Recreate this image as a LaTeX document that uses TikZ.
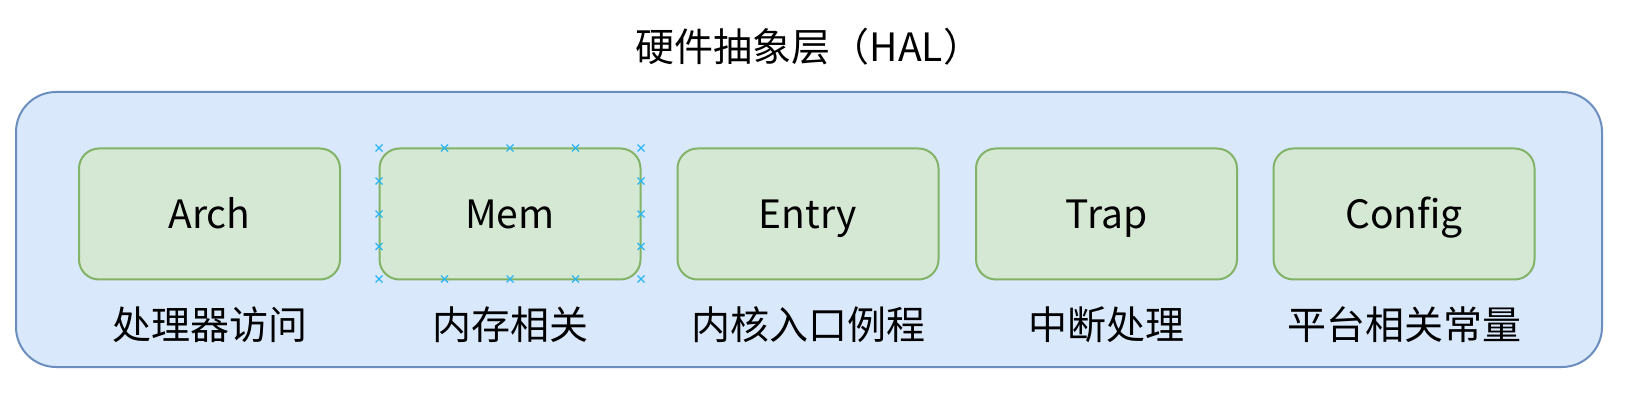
\documentclass[tikz,border=0pt]{standalone}
\usepackage{fontspec}
\newfontfamily\cjk{Noto Sans CJK SC}
\definecolor{outerfill}{HTML}{DAE8FC}
\definecolor{outerdraw}{HTML}{6C8EBF}
\definecolor{innerfill}{HTML}{D5E8D4}
\definecolor{innerdraw}{HTML}{82B366}
\definecolor{selblue}{HTML}{29B6F2}
\tikzset{
  modbox/.style={draw=innerdraw, fill=innerfill, line width=2pt, rounded corners=20pt,
    minimum width=261pt, minimum height=131pt, inner sep=0pt,
    text height=29.6pt, text depth=0pt,
    font=\cjk\fontsize{39}{45}\selectfont},
  caption/.style={font=\cjk\fontsize{39}{45}\selectfont, inner sep=0pt},
  selmark/.style={draw=selblue, line width=1.2pt}
}
\begin{document}
\begin{tikzpicture}[x=1pt,y=-1pt]
\path[use as bounding box, fill=white] (0,0) rectangle (1626,406);
\node[draw=outerdraw, fill=outerfill, line width=2pt, rounded corners=40pt,
  minimum width=1586pt, minimum height=275pt, inner sep=0pt] (hal) at (809,229.5) {};
\node[caption] (title) at (809,47) {硬件抽象层（HAL）};
\node[modbox] (arch) at (209.5,214) {Arch};
\node[modbox] (mem) at (510,214) {Mem};
\node[modbox] (entry) at (808,214) {Entry};
\node[modbox] (trap) at (1106.5,214) {Trap};
\node[modbox] (config) at (1404,214) {Config};
\node[caption] (l1) at (209.5,325) {处理器访问};
\node[caption] (l2) at (510,325) {内存相关};
\node[caption] (l3) at (808,325) {内核入口例程};
\node[caption] (l4) at (1106.5,325) {中断处理};
\node[caption] (l5) at (1404,325) {平台相关常量};
\foreach \x in {379,444.5,510,575.5,641}{
  \foreach \y in {148,279}{
    \draw[selmark] (\x-3.5,\y-3.5) -- (\x+3.5,\y+3.5) (\x-3.5,\y+3.5) -- (\x+3.5,\y-3.5);
  }
}
\foreach \x in {379,641}{
  \foreach \y in {181,214,246.5}{
    \draw[selmark] (\x-3.5,\y-3.5) -- (\x+3.5,\y+3.5) (\x-3.5,\y+3.5) -- (\x+3.5,\y-3.5);
  }
}
\end{tikzpicture}
\end{document}
